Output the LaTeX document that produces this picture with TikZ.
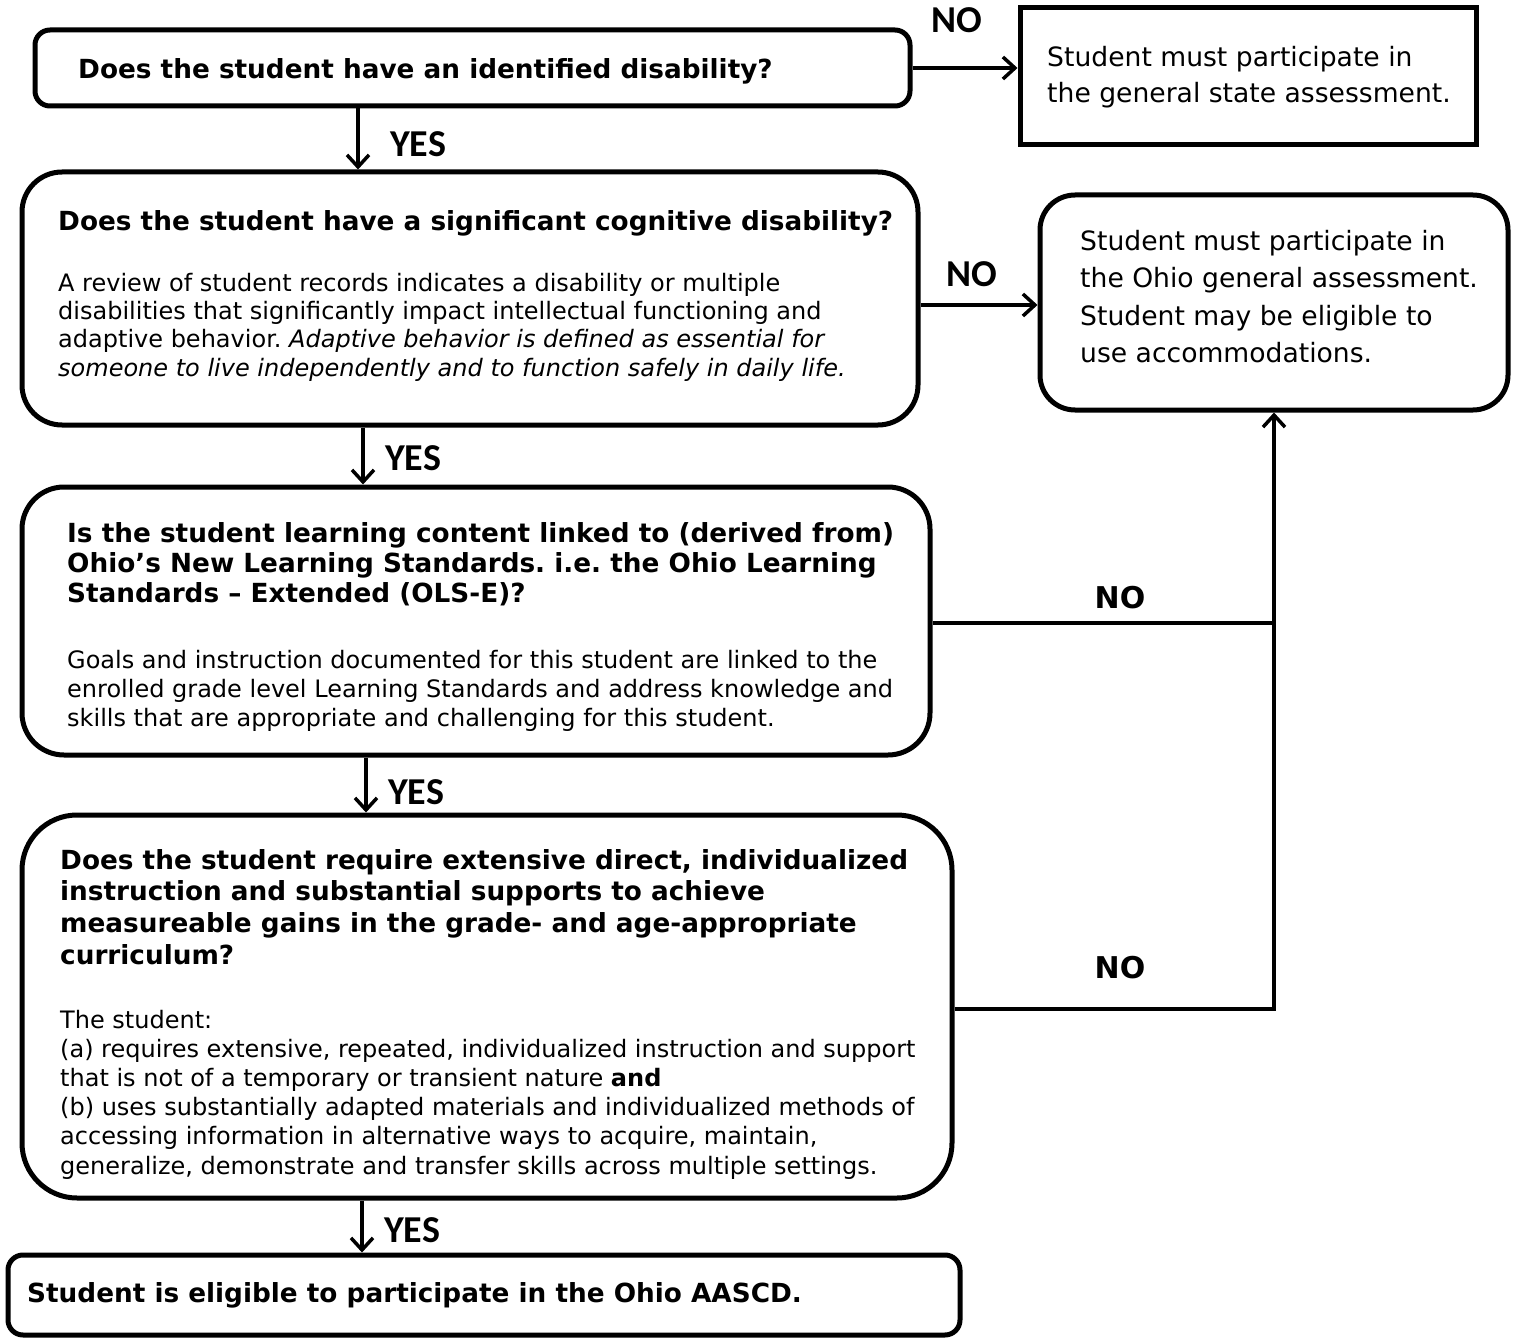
\documentclass[tikz,border=0pt]{standalone}
\usepackage{fontspec}
\setmainfont{DejaVu Sans}
\newfontfamily\calib{Carlito}
\usetikzlibrary{arrows.meta}
\frenchspacing
\begin{document}
\begin{tikzpicture}[x=1pt,y=-1pt,
  frame/.style={draw,line width=5,inner sep=0,minimum width=#1},
  conn/.style={line width=3.5},
  arr/.style={conn,-{Straight Barb[length=12,width=22]}},
  ttl/.style={anchor=base west,inner sep=0,align=left,font=\fontsize{26.3}{30}\selectfont\bfseries},
  bdy/.style={anchor=base west,inner sep=0,align=left,font=\fontsize{24}{29}\selectfont},
  big/.style={anchor=base west,inner sep=0,align=left,font=\fontsize{26.6}{37.5}\selectfont},
  yes/.style={anchor=base west,inner sep=0,font=\fontsize{38}{40}\selectfont\calib\bfseries},
  nob/.style={anchor=base,inner sep=0,font=\fontsize{30}{32}\selectfont\bfseries}]
\useasboundingbox (0,0) rectangle (1519,1343);
\fill[white] (0,0) rectangle (1519,1343);
% boxes
\node[frame=875,minimum height=76,rounded corners=15] (b1) at (472.5,68) {};
\node[frame=456,minimum height=137,sharp corners] (r1) at (1248,76.5) {};
\node[frame=896,minimum height=253,rounded corners=40] (b2) at (470,298.5) {};
\node[frame=468,minimum height=215,rounded corners=35] (r3) at (1274,302.5) {};
\node[frame=908,minimum height=268,rounded corners=42] (b3) at (476,621) {};
\node[frame=930,minimum height=383,rounded corners=55] (b4) at (487,1006.5) {};
\node[frame=952,minimum height=80,rounded corners=15] (b5) at (484,1295) {};
% texts (multi-line nodes are placed by the baseline of their last line)
\node[ttl] (t1) at (78,79) {Does the student have an identified disability?};
\node[big,font=\fontsize{26.6}{36}\selectfont] (tr1) at (1047,103) {Student must participate in\\the general state assessment.};
\node[ttl] (t2) at (58,231) {Does the student have a significant cognitive disability?};
\node[bdy,font=\fontsize{24}{28.5}\selectfont] (t2b) at (58,376.5) {A review of student records indicates a disability or multiple\\disabilities that significantly impact intellectual functioning and\\adaptive behavior. \itshape Adaptive behavior is defined as essential for\\\itshape someone to live independently and to function safely in daily life.};
\node[big] (tr3) at (1080,362.5) {Student must participate in\\the Ohio general assessment.\\Student may be eligible to\\use accommodations.};
\node[ttl] (t3) at (67,602) {Is the student learning content linked to (derived from)\\Ohio’s New Learning Standards. i.e. the Ohio Learning\\Standards – Extended (OLS-E)?};
\node[bdy] (t3b) at (67,726) {Goals and instruction documented for this student are linked to the\\enrolled grade level Learning Standards and address knowledge and\\skills that are appropriate and challenging for this student.};
\node[ttl,font=\fontsize{26.3}{31.6}\selectfont\bfseries] (t4) at (60,964) {Does the student require extensive direct, individualized\\instruction and substantial supports to achieve\\measureable gains in the grade- and age-appropriate\\curriculum?};
\node[bdy,font=\fontsize{24}{29.2}\selectfont] (t4b) at (60,1174) {The student:\\(a) requires extensive, repeated, individualized instruction and support\\that is not of a temporary or transient nature \textbf{and}\\(b) uses substantially adapted materials and individualized methods of\\accessing information in alternative ways to acquire, maintain,\\generalize, demonstrate and transfer skills across multiple settings.};
\node[ttl] (t5) at (27,1302) {Student is eligible to participate in the Ohio AASCD.};
% junction points
\coordinate (j1) at (1274,623);
\coordinate (j2) at (1274,1009);
\coordinate (c1) at (358,0);
\coordinate (c2) at (363,0);
\coordinate (c3) at (366,0);
\coordinate (c4) at (362,0);
\coordinate (h2) at (0,305);
% connectors
\draw[arr] (b1.east) -- (b1.east -| r1.west);
\draw[arr] (b1.south -| c1) -- (b2.north -| c1);
\draw[arr] (b2.east |- h2) -- (r3.west |- h2);
\draw[arr] (b2.south -| c2) -- (b3.north -| c2);
\draw[conn] (b3.east |- j1) -- (j1);
\draw[arr] (b4.east |- j2) -- (j2) -- (r3.south -| j2);
\draw[arr] (b3.south -| c3) -- (b4.north -| c3);
\draw[arr] (b4.south -| c4) -- (b5.north -| c4);
% labels
\node[yes] (y1) at (390,157) {YES};
\node[yes] (y2) at (385,470) {YES};
\node[yes] (y3) at (388,804) {YES};
\node[yes] (y4) at (384,1242) {YES};
\node[yes,anchor=base] (n1) at (957,33) {NO};
\node[yes,anchor=base] (n2) at (972,287) {NO};
\node[nob] (n3) at (1120,608) {NO};
\node[nob] (n4) at (1120,978) {NO};
\end{tikzpicture}
\end{document}
